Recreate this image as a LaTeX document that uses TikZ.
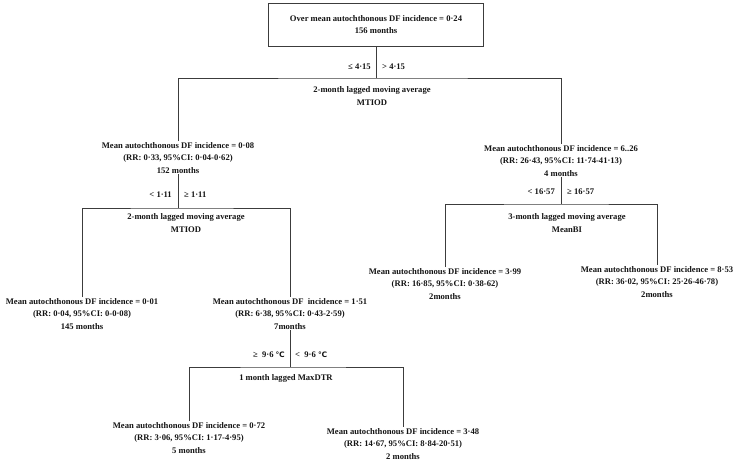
\documentclass[tikz,border=0pt]{standalone}
\usepackage{fontspec}
\setmainfont{Liberation Serif}
\newfontfamily\degfont{DejaVu Sans}
\usetikzlibrary{positioning,calc}
\definecolor{ink}{RGB}{20,20,20}
\definecolor{rulegray}{RGB}{60,60,60}
\newcommand{\degc}{{\degfont\fontsize{7.5}{12}\selectfont ℃}}
\tikzset{
  leaf/.style={align=center,font=\fontsize{8.6}{12.5}\selectfont\bfseries,inner sep=1pt,text=ink},
  root/.style={leaf,draw=rulegray,line width=1pt,minimum width=215pt,minimum height=43pt},
  split/.style={leaf},
  cut/.style={leaf,inner sep=0pt},
  wire/.style={draw=rulegray,line width=0.8pt}
}

\begin{document}
\begin{tikzpicture}[x=1pt,y=-1pt]
\useasboundingbox (0,0) rectangle (740,461);
% root
\node[root] (top) at (376,24.5) {Over mean autochthonous DF incidence = 0·24\\156 months};
\coordinate (b1) at (376,78);
\node[cut,anchor=east] (c1a) at (371,67) {≤ 4·15};
\node[cut,anchor=west] (c1b) at (382,67) {> 4·15};
\node[split] (s1) at (372,96) {2-month lagged moving average\\MTIOD};
\node[leaf,anchor=north] (n1) at (178,141) {Mean autochthonous DF incidence = 0·08\\(RR: 0·33, 95\%CI: 0·04-0·62)\\152 months};
\node[leaf,anchor=north] (n2) at (561,144) {Mean autochthonous DF incidence = 6..26\\(RR: 26·43, 95\%CI: 11·74-41·13)\\4 months};
\draw[wire] (top) -- (b1);
\draw[wire] (n1.north) |- (b1) -| (n2.north);
% left branch
\coordinate (b2) at (178,208);
\node[cut,anchor=east] (c2a) at (172,195) {< 1·11};
\node[cut,anchor=west] (c2b) at (184,195) {≥ 1·11};
\node[split] (s2) at (186,223) {2-month lagged moving average\\MTIOD};
\node[leaf,anchor=north] (n3) at (82,297) {Mean autochthonous DF incidence = 0·01\\(RR: 0·04, 95\%CI: 0-0·08)\\145 months};
\node[leaf,anchor=north] (n4) at (290,297) {Mean autochthonous DF\ \ incidence = 1·51\\(RR: 6·38, 95\%CI: 0·43-2·59)\\7months};
\draw[wire] (n1) -- (b2);
\draw[wire] (n3.north) |- (b2) -| (n4.north);
% MaxDTR split
\coordinate (b4) at (290,367);
\node[cut,anchor=east] (c4a) at (285,355) {≥\ \ 9·6 \degc};
\node[cut,anchor=west] (c4b) at (295,355) {<\ \ 9·6 \degc};
\node[split] (s4) at (286,378) {1 month lagged MaxDTR};
\node[leaf,anchor=north] (n7) at (189,421) {Mean autochthonous DF incidence = 0·72\\(RR: 3·06, 95\%CI: 1·17-4·95)\\5 months};
\node[leaf,anchor=north] (n8) at (403,427) {Mean autochthonous DF incidence = 3·48\\(RR: 14·67, 95\%CI: 8·84-20·51)\\2 months};
\draw[wire] (n4) -- (b4);
\draw[wire] (n7.north) |- (b4) -| (n8.north);
% right branch
\coordinate (b3) at (561,204);
\node[cut,anchor=east] (c3a) at (555,192) {< 16·57};
\node[cut,anchor=west] (c3b) at (567,192) {≥ 16·57};
\node[split] (s3) at (567,223) {3-month lagged moving average\\MeanBI};
\node[leaf,anchor=north] (n5) at (445,267) {Mean autochthonous DF incidence = 3·99\\(RR: 16·85, 95\%CI: 0·38-62)\\2months};
\node[leaf,anchor=north] (n6) at (657,265) {Mean autochthonous DF incidence = 8·53\\(RR: 36·02, 95\%CI: 25·26-46·78)\\2months};
\draw[wire] (n2) -- (b3);
\draw[wire] (n5.north) |- (b3) -| (n6.north);
\end{tikzpicture}
\end{document}
